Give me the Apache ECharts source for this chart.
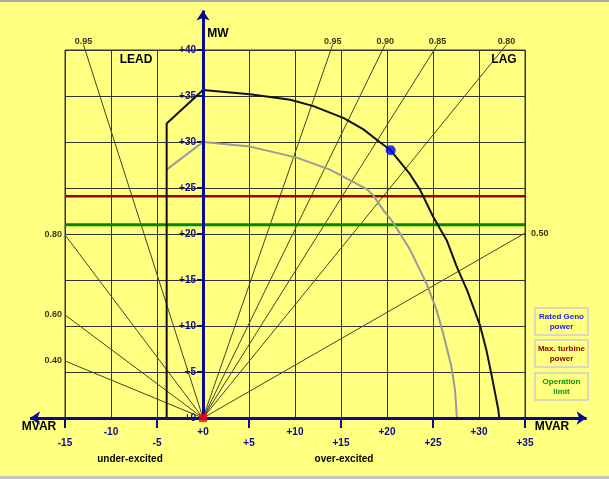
<!DOCTYPE html>
<html>
<head>
<meta charset="utf-8">
<script src="https://cdn.jsdelivr.net/npm/echarts@6/dist/echarts.min.js"></script>
<style>
  html, body { margin: 0; padding: 0; }
  #chart { position: absolute; left: 0; top: 0; width: 609px; height: 479px; }
  #topbar { position: absolute; left: 0; top: 0; width: 609px; height: 2px; background: #a8a8a8; }
  #botbar { position: absolute; left: 0; top: 476px; width: 609px; height: 3px; background: #c4c4c4; }
</style>
</head>
<body>
<div id="chart"></div>
<div id="topbar"></div>
<div id="botbar"></div>
<script>
// MVAR (x) / MW (y) readings taken off the capability diagram
var xTickValues = [-15, -10, -5, 0, 5, 10, 15, 20, 25, 30, 35];
var pfLabels = ['0.95', '0.80', '0.60', '0.40', '0.95', '0.90', '0.85', '0.80', '0.50'];
var pfEnds = [[-13.0, 40.6], [-15, 19.9], [-15, 11.2], [-15, 6.2],
              [14.1, 40.6], [19.8, 40.6], [25.5, 40.6], [33.0, 40.6], [35, 20.1]];
var ratedCurve = [[-3.95, 0], [-3.95, 32.0], [0, 35.65], [5.1, 35.2], [9.5, 34.6], [12.0, 33.9],
                  [15.3, 32.6], [17.4, 31.4], [19.2, 30.0], [20.4, 29.1], [22.5, 26.5], [23.6, 24.8],
                  [25.0, 21.9], [26.5, 19.3], [27.6, 16.4], [28.7, 13.9], [30.1, 10.1], [30.8, 7.4],
                  [31.4, 4.5], [32.1, 0.9], [32.2, 0]];
var limitCurve = [[-3.95, 27.0], [0, 30.0], [5.1, 29.5], [10.2, 28.3], [13.8, 27.0], [17.4, 25.1],
                  [17.9, 24.8], [18.5, 24.2], [19.6, 22.6], [20.7, 21.2], [22.5, 18.3], [24.3, 14.6],
                  [25.4, 11.7], [26.1, 9.2], [27.0, 5.6], [27.4, 3.0], [27.6, 0]];
var operatingPoint = [[20.4, 29.1]];
var origin = [[0, 0]];
var maxTurbineMW = 24.1;
var operationLimitMW = 21.0;
var xRange = [-15, 35];

var navy = '#0a0a8a';
var font = 'Liberation Sans, Arial, sans-serif';
var myChart = echarts.init(document.getElementById('chart'));

function fmt(v) {
    return v >= 0 ? '+' + v : '' + v;
}

var lowTicks = xTickValues.filter(function (v, i) { return i % 2 === 0; });

// y axis sits at MVAR = 0, i.e. 15/50 of the grid width in from the left
var gridLeft = 65, gridWidth = 460;
var yOffset = -gridWidth * (0 - xRange[0]) / (xRange[1] - xRange[0]);

var option = {
    backgroundColor: '#ffff80',
    animation: false,
    textStyle: { fontFamily: font },
    grid: { left: gridLeft, right: 609 - gridLeft - gridWidth, top: 50, bottom: 61, show: true, borderColor: '#333', borderWidth: 1 },
    xAxis: {
        type: 'value', min: xRange[0], max: xRange[1], interval: 5,
        axisLine: { show: true, onZero: true, lineStyle: { color: navy, width: 3 } },
        axisTick: { show: false },
        axisLabel: {
            color: navy, fontWeight: 'bold', fontSize: 10, margin: 9, lineHeight: 11,
            formatter: function (v) {
                return lowTicks.indexOf(v) >= 0 ? '\n' + fmt(v) : fmt(v);
            }
        },
        splitLine: { show: true, lineStyle: { color: '#333', width: 1 } }
    },
    yAxis: {
        type: 'value', min: 0, max: 40, interval: 5,
        position: 'left', offset: yOffset,
        axisLine: { show: true, onZero: false, lineStyle: { color: navy, width: 3 } },
        axisTick: { show: true, length: 6, lineStyle: { color: navy, width: 2 } },
        axisLabel: { color: navy, fontWeight: 'bold', fontSize: 10, margin: 7, formatter: fmt },
        splitLine: { show: true, lineStyle: { color: '#333', width: 1 } }
    },
    series: [
        {
            // power factor rays
            type: 'lines', coordinateSystem: 'cartesian2d', silent: true, clip: false, z: 2,
            symbol: 'none',
            lineStyle: { color: '#44442a', width: 1, opacity: 1, curveness: 0 },
            data: pfEnds.map(function (e) { return { coords: [[0, 0], e] }; })
        },
        {
            type: 'scatter', silent: true, symbolSize: 0, z: 3, clip: false,
            labelLayout: { hideOverlap: false },
            data: pfEnds.map(function (e, i) {
                var pos = e[1] >= 40 ? 'top' : (e[0] < 0 ? 'left' : 'right');
                return {
                    value: e,
                    label: { show: true, position: pos, distance: pos === 'top' ? -2 : (pos === 'left' ? 3 : 6),
                             formatter: pfLabels[i], color: '#000', fontSize: 9, fontWeight: 'bold' }
                };
            })
        },
        {
            type: 'line', silent: true, symbol: 'none', z: 4,
            lineStyle: { color: '#990000', width: 2.5 },
            data: [[xRange[0], maxTurbineMW], [xRange[1], maxTurbineMW]]
        },
        {
            type: 'line', silent: true, symbol: 'none', z: 4,
            lineStyle: { color: '#008a00', width: 3 },
            data: [[xRange[0], operationLimitMW], [xRange[1], operationLimitMW]]
        },
        {
            type: 'line', silent: true, symbol: 'none', z: 5,
            lineStyle: { color: '#9a9a9a', width: 2 },
            data: limitCurve
        },
        {
            type: 'line', silent: true, symbol: 'none', z: 5,
            lineStyle: { color: '#111', width: 2 },
            data: ratedCurve
        },
        {
            // axes with arrows
            type: 'lines', coordinateSystem: 'cartesian2d', silent: true, clip: false, z: 6,
            symbol: ['none', 'arrow'], symbolSize: 10,
            lineStyle: { color: navy, width: 3, opacity: 1 },
            data: [
                { coords: [[0, 0], [-18.8, 0]] },
                { coords: [[0, 0], [41.7, 0]] },
                { coords: [[0, 0], [0, 44.3]] }
            ]
        },
        {
            type: 'lines', coordinateSystem: 'cartesian2d', silent: true, clip: false, z: 6,
            symbol: 'none',
            lineStyle: { color: navy, width: 2, opacity: 1 },
            data: lowTicks.map(function (v) { return { coords: [[v, 0], [v, -1.1]] }; })
        },
        {
            type: 'scatter', silent: true, symbol: 'circle', symbolSize: 10, z: 8,
            itemStyle: { color: '#0000ff' },
            data: operatingPoint
        },
        {
            type: 'scatter', silent: true, symbol: 'rect', symbolSize: 8, z: 9,
            itemStyle: { color: '#ff0000' },
            data: origin
        }
    ],
    graphic: [
        { type: 'text', x: 136, y: 60, style: { text: 'LEAD', font: 'bold 12px ' + font, fill: '#000', align: 'center', verticalAlign: 'middle' } },
        { type: 'text', x: 504, y: 60, style: { text: 'LAG', font: 'bold 12px ' + font, fill: '#000', align: 'center', verticalAlign: 'middle' } },
        { type: 'text', x: 218, y: 34, style: { text: 'MW', font: 'bold 12px ' + font, fill: '#000', align: 'center', verticalAlign: 'middle' } },
        { type: 'text', x: 39, y: 427, style: { text: 'MVAR', font: 'bold 12px ' + font, fill: '#000', align: 'center', verticalAlign: 'middle' } },
        { type: 'text', x: 552, y: 427, style: { text: 'MVAR', font: 'bold 12px ' + font, fill: '#000', align: 'center', verticalAlign: 'middle' } },
        { type: 'text', x: 130, y: 459, style: { text: 'under-excited', font: 'bold 10px ' + font, fill: '#000', align: 'center', verticalAlign: 'middle' } },
        { type: 'text', x: 344, y: 459, style: { text: 'over-excited', font: 'bold 10px ' + font, fill: '#000', align: 'center', verticalAlign: 'middle' } },
        { type: 'rect', shape: { x: 535, y: 308, width: 53, height: 27 }, style: { fill: 'none', stroke: '#d8d8c0', lineWidth: 2 } },
        { type: 'rect', shape: { x: 535, y: 340, width: 53, height: 27 }, style: { fill: 'none', stroke: '#d8d8c0', lineWidth: 2 } },
        { type: 'rect', shape: { x: 535, y: 373, width: 53, height: 27 }, style: { fill: 'none', stroke: '#d8d8c0', lineWidth: 2 } },
        { type: 'text', x: 561.5, y: 321.5, style: { text: 'Rated Geno\npower', font: 'bold 8px ' + font, lineHeight: 10, fill: '#1a1aff', align: 'center', verticalAlign: 'middle' } },
        { type: 'text', x: 561.5, y: 353.5, style: { text: 'Max. turbine\npower', font: 'bold 8px ' + font, lineHeight: 10, fill: '#8b0000', align: 'center', verticalAlign: 'middle' } },
        { type: 'text', x: 561.5, y: 386.5, style: { text: 'Operation\nlimit', font: 'bold 8px ' + font, lineHeight: 10, fill: '#109010', align: 'center', verticalAlign: 'middle' } }
    ]
};
myChart.setOption(option);
</script>
</body>
</html>
